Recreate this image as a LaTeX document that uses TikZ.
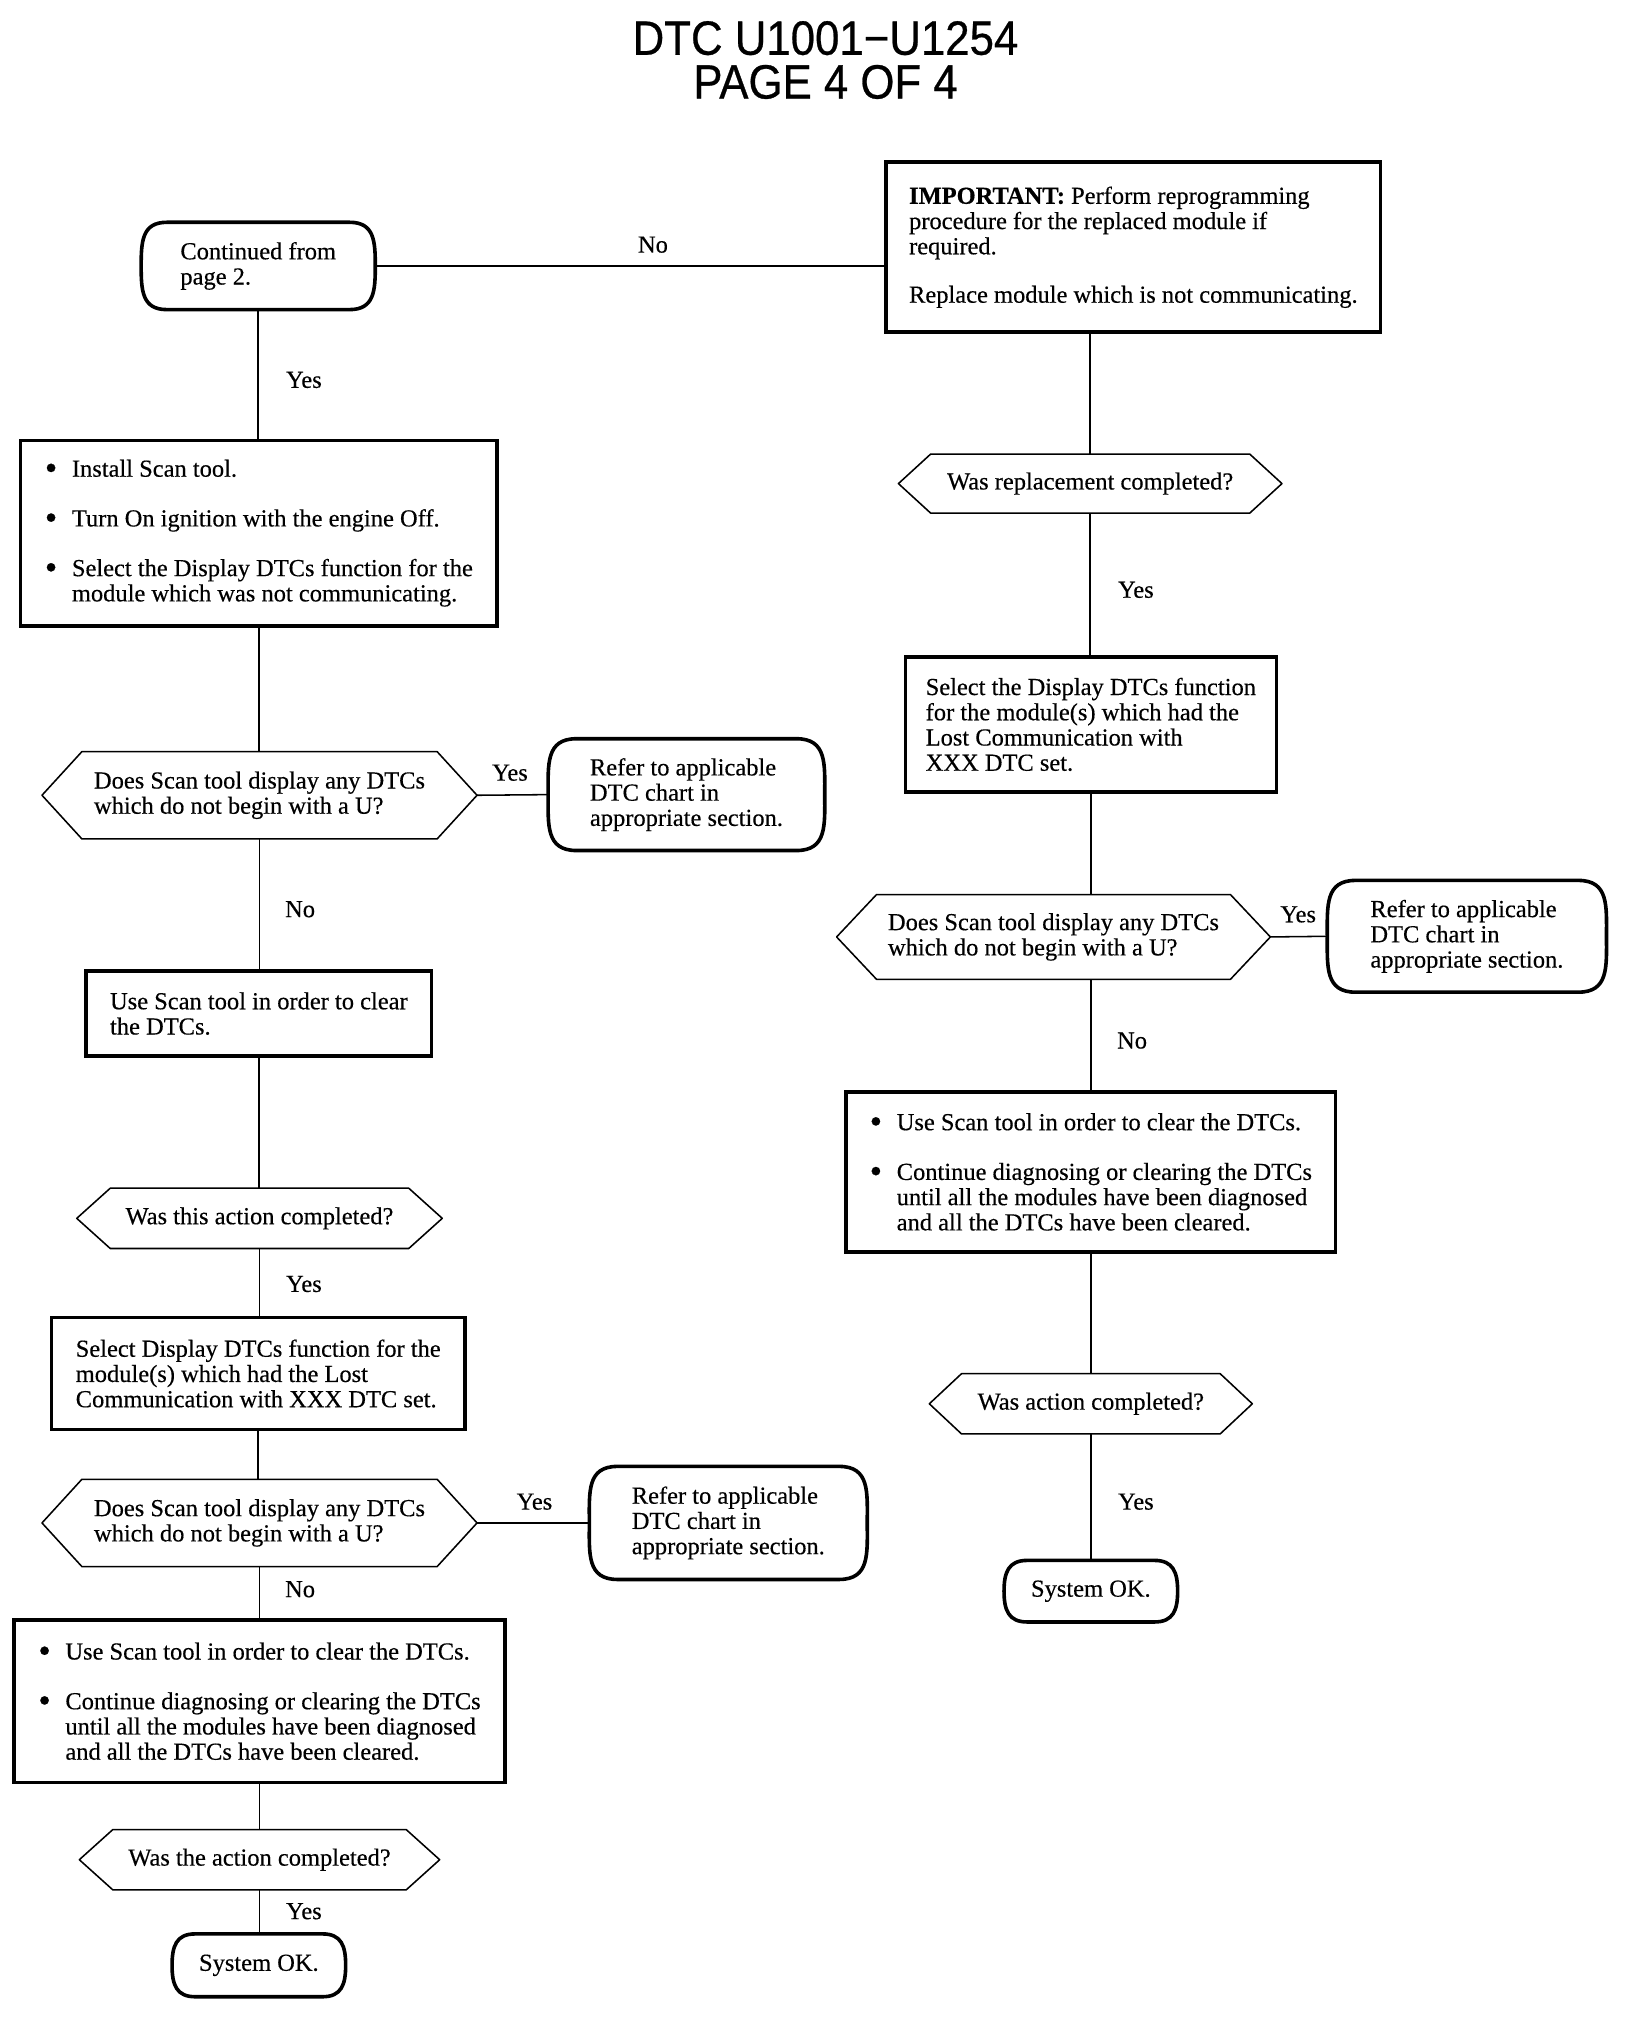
\documentclass[tikz,border=0pt]{standalone}
\usepackage{fontspec}
\setmainfont{Liberation Serif}[FakeBold=0.4]
\newfontfamily\titlefont{Liberation Sans}[FakeBold=0.6]
\usetikzlibrary{positioning,calc}
\newcommand\bodyfont{\fontsize{9.5}{9.8}\selectfont}
\newcommand\bul{\makebox[10.5pt][l]{\raisebox{-0.12em}{\scalebox{1.45}{\textbullet}}}}
\newcommand\ind{\hspace*{10.5pt}}
\newcommand\hexa[2]{\draw[thinline] (#1.west) -- ([xshift=#2]#1.north west) -- ([xshift=-#2]#1.north east) -- (#1.east) -- ([xshift=-#2]#1.south east) -- ([xshift=#2]#1.south west) -- cycle;}
\newcommand\termi[2]{\draw[thickline] ([xshift=#2]#1.north west) -- ([xshift=-#2]#1.north east) to[out=0,in=90,looseness=1.25] (#1.east) to[out=-90,in=0,looseness=1.25] ([xshift=-#2]#1.south east) -- ([xshift=#2]#1.south west) to[out=180,in=-90,looseness=1.25] (#1.west) to[out=90,in=180,looseness=1.25] ([xshift=#2]#1.north west) -- cycle;}
\tikzset{
  thinline/.style={line width=0.6pt, line join=round},
  thickline/.style={line width=1.4pt, line join=round},
  base/.style={font=\bodyfont, align=left, inner sep=0pt},
  stepbox/.style={base, draw, line width=1.4pt},
  termnode/.style={base},
  decnode/.style={base},
  lbl/.style={font=\bodyfont, inner sep=0pt},
  conn/.style={thinline},
}
\begin{document}
\begin{tikzpicture}[x=0.5pt,y=-0.5pt]
\useasboundingbox (0,0) rectangle (1280,1584);
% title
\node[font=\titlefont\fontsize{17}{17}\selectfont, align=center, anchor=north, inner sep=0pt] (title) at (641,16) {\scalebox{1}[1.1]{DTC U1001−U1254}\\\scalebox{1}[1.1]{PAGE 4 OF 4}};

% left column
\node[termnode, minimum width=90.5pt, minimum height=33.5pt] (cont) at (200.5,206.5) {Continued from\\page 2.};
\termi{cont}{10pt}
\node[stepbox, minimum width=192pt, minimum height=66pt] (imp) at (880,192) {\textbf{IMPORTANT:} Perform reprogramming\\procedure for the replaced module if\\required.\\[9pt]Replace module which is not communicating.};
\node[stepbox, minimum width=185pt, minimum height=72pt] (inst) at (201,414) {\bul Install Scan tool.\\[9.5pt]\bul Turn On ignition with the engine Off.\\[9.5pt]\bul Select the Display DTCs function for the\\\ind module which was not communicating.};
\node[decnode, minimum width=168.5pt, minimum height=33.5pt] (dec1) at (201.5,617.5) {Does Scan tool display any DTCs\\which do not begin with a U?};
\hexa{dec1}{15.5pt}
\node[termnode, minimum width=107pt, minimum height=43pt] (ref1) at (533,617) {Refer to applicable\\DTC chart in\\appropriate section.};
\termi{ref1}{11pt}
\node[stepbox, minimum width=134pt, minimum height=33pt] (clr1) at (201,787) {Use Scan tool in order to clear\\the DTCs.};
\node[decnode, minimum width=141.5pt, minimum height=23pt] (dec2) at (201.5,946) {Was this action completed?};
\hexa{dec2}{13pt}
\node[stepbox, minimum width=160.5pt, minimum height=43.5pt] (sel1) at (200.5,1066.5) {Select Display DTCs function for the\\module(s) which had the Lost\\Communication with XXX DTC set.};
\node[decnode, minimum width=168.5pt, minimum height=33.5pt] (dec3) at (201.5,1182.5) {Does Scan tool display any DTCs\\which do not begin with a U?};
\hexa{dec3}{15.5pt}
\node[termnode, minimum width=107.5pt, minimum height=43.5pt] (ref2) at (565.5,1182.5) {Refer to applicable\\DTC chart in\\appropriate section.};
\termi{ref2}{11pt}
\node[stepbox, minimum width=190.5pt, minimum height=63pt] (clr2) at (201.5,1321) {\bul Use Scan tool in order to clear the DTCs.\\[9.5pt]\bul Continue diagnosing or clearing the DTCs\\\ind until all the modules have been diagnosed\\\ind and all the DTCs have been cleared.};
\node[decnode, minimum width=139.5pt, minimum height=23pt] (dec4) at (201.5,1444) {Was the action completed?};
\hexa{dec4}{13pt}
\node[termnode, minimum width=67pt, minimum height=24pt] (ok1) at (201,1526) {System OK.};
\termi{ok1}{9pt}

% right column
\node[decnode, minimum width=148.5pt, minimum height=22.5pt] (dr1) at (846.5,375.5) {Was replacement completed?};
\hexa{dr1}{12.5pt}
\node[stepbox, minimum width=144pt, minimum height=52.5pt] (sel2) at (847,562.5) {Select the Display DTCs function\\for the module(s) which had the\\Lost Communication with\\XXX DTC set.};
\node[decnode, minimum width=168pt, minimum height=32.5pt] (dr2) at (818,727.5) {Does Scan tool display any DTCs\\which do not begin with a U?};
\hexa{dr2}{15.5pt}
\node[termnode, minimum width=108pt, minimum height=43pt] (rref) at (1139,727) {Refer to applicable\\DTC chart in\\appropriate section.};
\termi{rref}{11pt}
\node[stepbox, minimum width=190pt, minimum height=62pt] (rclr) at (847,910) {\bul Use Scan tool in order to clear the DTCs.\\[9.5pt]\bul Continue diagnosing or clearing the DTCs\\\ind until all the modules have been diagnosed\\\ind and all the DTCs have been cleared.};
\node[decnode, minimum width=125pt, minimum height=23pt] (dr3) at (847,1090) {Was action completed?};
\hexa{dr3}{12.5pt}
\node[termnode, minimum width=67pt, minimum height=23.5pt] (ok2) at (847,1235.5) {System OK.};
\termi{ok2}{9pt}

% connectors
\draw[conn] (cont.east) -- (cont.east -| imp.west);
\draw[conn] (cont.south) -- (cont.south |- inst.north);
\draw[conn] (inst.south) -- (inst.south |- dec1.north);
\draw[conn] (dec1.east) -- (ref1.west);
\draw[conn] (dec1.south) -- (dec1.south |- clr1.north);
\draw[conn] (clr1.south) -- (clr1.south |- dec2.north);
\draw[conn] (dec2.south) -- (dec2.south |- sel1.north);
\draw[conn] (sel1.south) -- (sel1.south |- dec3.north);
\draw[conn] (dec3.east) -- (ref2.west);
\draw[conn] (dec3.south) -- (dec3.south |- clr2.north);
\draw[conn] (clr2.south) -- (clr2.south |- dec4.north);
\draw[conn] (dec4.south) -- (dec4.south |- ok1.north);
\draw[conn] (imp.south -| dr1.north) -- (dr1.north);
\draw[conn] (dr1.south) -- (dr1.south |- sel2.north);
\draw[conn] (sel2.south) -- (sel2.south |- dr2.north);
\draw[conn] (dr2.east) -- (rref.west);
\draw[conn] (sel2.south |- dr2.south) -- (sel2.south |- rclr.north);
\draw[conn] (rclr.south) -- (rclr.south |- dr3.north);
\draw[conn] (dr3.south) -- (dr3.south |- ok2.north);

% labels
\node[lbl] (l1) at (507,190) {No};
\node[lbl] (l2) at (236,295) {Yes};
\node[lbl] (l3) at (396,600) {Yes};
\node[lbl] (l4) at (233,706) {No};
\node[lbl] (l5) at (236,997) {Yes};
\node[lbl] (l6) at (415,1166) {Yes};
\node[lbl] (l7) at (233,1234) {No};
\node[lbl] (l8) at (236,1484) {Yes};
\node[lbl] (r1) at (882,458) {Yes};
\node[lbl] (r2) at (1008,710) {Yes};
\node[lbl] (r3) at (879,808) {No};
\node[lbl] (r4) at (882,1166) {Yes};
\end{tikzpicture}
\end{document}
